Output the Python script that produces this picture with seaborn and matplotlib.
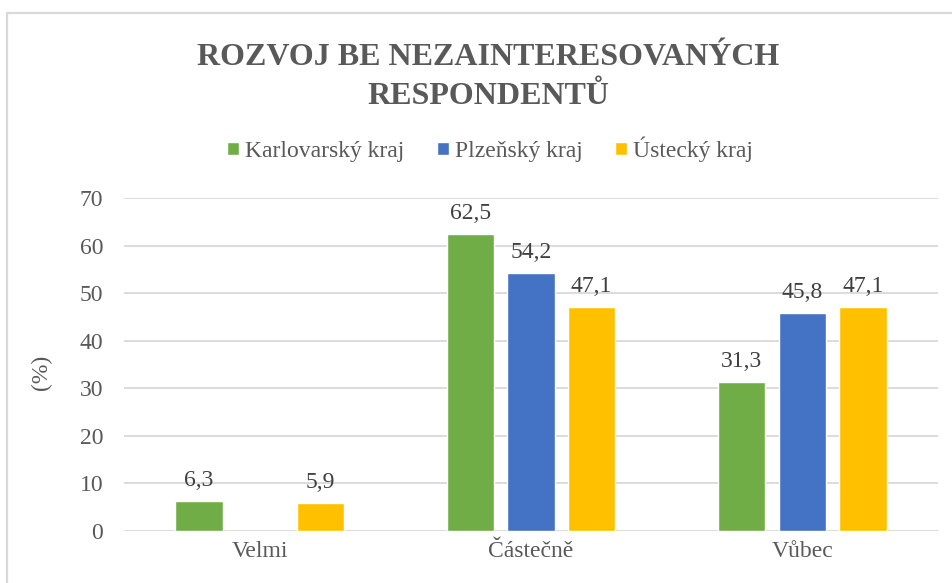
import matplotlib
matplotlib.use("Agg")
import matplotlib.pyplot as plt
import seaborn as sns
import pandas as pd
import numpy as np
from matplotlib.lines import Line2D

categories = ["Velmi", "Částečně", "Vůbec"]
regions = ["Karlovarský kraj", "Plzeňský kraj", "Ústecký kraj"]
karlovarsky = [6.3, 62.5, 31.3]
plzensky = [np.nan, 54.2, 45.8]
ustecky = [5.9, 47.1, 47.1]
colors = ["#70AD47", "#4472C4", "#FFC000"]
yticks = [0, 10, 20, 30, 40, 50, 60, 70]

rows = []
for reg, vals in zip(regions, [karlovarsky, plzensky, ustecky]):
    for c, v in zip(categories, vals):
        rows.append({"cat": c, "region": reg, "val": v})
df = pd.DataFrame(rows)

sns.set_style("white")
plt.rcParams["font.family"] = ["Liberation Serif", "DejaVu Serif"]
text_col = "#595959"
fs = 17

fig = plt.figure(figsize=(9.53, 5.83), dpi=100)
ax = fig.add_axes([124/953, 1-531/583, (938-124)/953, (531-198)/583])

sns.barplot(data=df, x="cat", y="val", hue="region", order=categories,
            hue_order=regions, palette=colors, width=0.67, gap=0.22,
            saturation=1, ax=ax, legend=True, err_kws={"linewidth": 0})

ax.set_xlim(-0.5, 2.5)
ax.set_ylim(0, 70)
ax.set_yticks(yticks)
ax.yaxis.grid(True, color="#D9D9D9", linewidth=1.3)
ax.set_axisbelow(True)
for s in ax.spines.values():
    s.set_visible(False)
ax.tick_params(axis="both", length=0, labelsize=fs, colors=text_col)
ax.tick_params(axis="x", pad=7)
ax.tick_params(axis="y", pad=15)
ax.set_xlabel("")
ax.set_ylabel("(%)", fontsize=fs, color=text_col)
ax.yaxis.set_label_coords((52 - 124) / (938 - 124), (531 - 372) / (531 - 198))

for cont in ax.containers:
    labels = ["" if np.isnan(v) else f"{v:.1f}".replace(".", ",") for v in cont.datavalues]
    ax.bar_label(cont, labels=labels, padding=7, fontsize=fs, color="#404040")

handles, labs = ax.get_legend_handles_labels()
ax.legend_.remove()
fig.legend(handles, labs, loc="center", bbox_to_anchor=(490/953, 1-149/583),
           ncol=3, frameon=False, fontsize=fs, handlelength=0.5, handleheight=0.5,
           handletextpad=0.25, columnspacing=1.4, labelcolor=text_col)

fig.text(488/953, 1-77/583, "ROZVOJ BE NEZAINTERESOVANÝCH\nRESPONDENTŮ", ha="center",
         va="center", fontsize=23, fontweight="bold", color=text_col, linespacing=1.45)

fig.add_artist(Line2D([7.5/953, 7.5/953], [0, 1-12.5/583], color="#D9D9D9", linewidth=1.6,
                      transform=fig.transFigure))
fig.add_artist(Line2D([7.5/953, 1], [1-12.5/583, 1-12.5/583], color="#D9D9D9", linewidth=1.6,
                      transform=fig.transFigure))

fig.savefig("out.png", dpi=100)
